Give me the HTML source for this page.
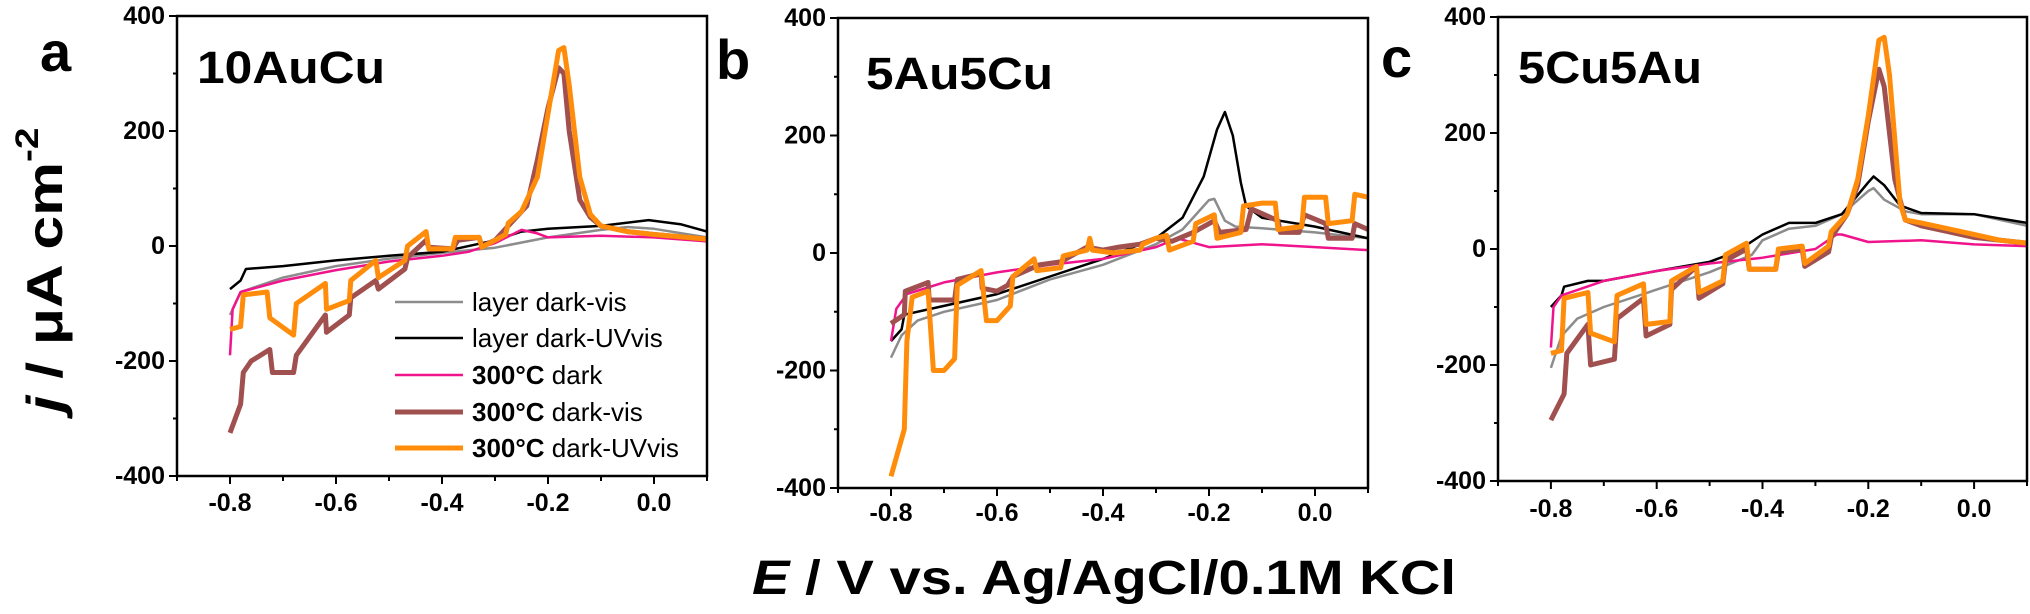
<!DOCTYPE html>
<html><head><meta charset="utf-8"><style>
html,body{margin:0;padding:0;background:#fff;}
svg{display:block;font-family:"Liberation Sans",Arial,sans-serif;}
</style></head><body>
<svg id="chart" width="2030" height="614" viewBox="0 0 2030 614" xmlns="http://www.w3.org/2000/svg">
<text x="45" y="270" transform="rotate(-90 45 270)" text-anchor="middle" dominant-baseline="central" font-size="50" font-weight="bold" textLength="285" lengthAdjust="spacingAndGlyphs"><tspan font-style="italic">j</tspan> / μA cm<tspan dy="-18" font-size="32">-2</tspan></text>
<text x="1104" y="594" text-anchor="middle" font-size="48" font-weight="bold" textLength="704" lengthAdjust="spacingAndGlyphs"><tspan font-style="italic">E</tspan> / V vs. Ag/AgCl/0.1M KCl</text>
</svg>
<script>
const xTicks = [-0.8, -0.6, -0.4, -0.2, 0.0];
const xTickLabels = ["-0.8", "-0.6", "-0.4", "-0.2", "0.0"];
const yTicks = [-400, -200, 0, 200, 400];
const yTickLabels = ["-400", "-200", "0", "200", "400"];
const seriesNames = ["layer dark-vis", "layer dark-UVvis", "300°C dark", "300°C dark-vis", "300°C dark-UVvis"];

const a_gray = [[-0.8,-120],[-0.78,-80],[-0.7,-55],[-0.6,-35],[-0.5,-22],[-0.4,-12],[-0.3,-3],[-0.2,15],[-0.1,28],[-0.05,33],[0,30],[0.1,15]];
const a_black = [[-0.8,-75],[-0.78,-60],[-0.77,-40],[-0.7,-35],[-0.6,-25],[-0.5,-17],[-0.4,-10],[-0.3,10],[-0.25,25],[-0.2,30],[-0.1,35],[-0.01,45],[0.05,38],[0.1,25]];
const a_pink = [[-0.8,-190],[-0.795,-110],[-0.78,-80],[-0.7,-60],[-0.6,-42],[-0.5,-27],[-0.4,-17],[-0.35,-10],[-0.3,5],[-0.25,28],[-0.22,22],[-0.2,15],[-0.1,18],[0,15],[0.1,8]];
const a_brown = [[-0.8,-325],[-0.78,-275],[-0.775,-220],[-0.76,-200],[-0.725,-180],[-0.72,-220],[-0.68,-220],[-0.675,-190],[-0.62,-120],[-0.618,-150],[-0.575,-120],[-0.572,-90],[-0.525,-60],[-0.52,-75],[-0.47,-40],[-0.465,-20],[-0.43,10],[-0.425,-2],[-0.38,-5],[-0.37,10],[-0.33,15],[-0.325,0],[-0.3,10],[-0.28,30],[-0.24,70],[-0.22,150],[-0.2,240],[-0.18,310],[-0.17,300],[-0.16,200],[-0.14,80],[-0.12,50],[-0.1,35],[-0.05,25],[0,20],[0.1,12]];
const a_orange = [[-0.8,-145],[-0.78,-140],[-0.775,-85],[-0.73,-80],[-0.725,-125],[-0.68,-155],[-0.675,-100],[-0.62,-65],[-0.618,-110],[-0.575,-95],[-0.572,-60],[-0.525,-25],[-0.52,-55],[-0.47,-25],[-0.465,0],[-0.43,25],[-0.425,-5],[-0.38,-5],[-0.375,15],[-0.33,15],[-0.325,-2],[-0.3,10],[-0.28,20],[-0.275,40],[-0.25,60],[-0.22,120],[-0.2,230],[-0.18,340],[-0.17,345],[-0.16,280],[-0.14,120],[-0.12,55],[-0.1,35],[-0.05,25],[0,20],[0.1,12]];

const b_gray = [[-0.8,-178],[-0.78,-140],[-0.75,-115],[-0.7,-100],[-0.6,-80],[-0.5,-45],[-0.4,-20],[-0.3,15],[-0.25,40],[-0.2,90],[-0.19,92],[-0.17,55],[-0.15,45],[-0.1,42],[0,35],[0.1,25]];
const b_black = [[-0.8,-150],[-0.78,-130],[-0.775,-105],[-0.7,-90],[-0.6,-70],[-0.5,-40],[-0.4,-10],[-0.3,25],[-0.25,60],[-0.21,130],[-0.185,210],[-0.17,240],[-0.155,200],[-0.14,120],[-0.13,80],[-0.1,60],[0,45],[0.1,25]];
const b_pink = [[-0.8,-150],[-0.79,-95],[-0.77,-70],[-0.7,-50],[-0.6,-33],[-0.5,-20],[-0.4,-10],[-0.3,10],[-0.26,25],[-0.22,15],[-0.2,10],[-0.1,15],[0,10],[0.1,5]];
const b_brown = [[-0.8,-120],[-0.775,-105],[-0.773,-65],[-0.73,-50],[-0.728,-80],[-0.68,-80],[-0.675,-45],[-0.63,-35],[-0.628,-60],[-0.6,-65],[-0.58,-55],[-0.57,-40],[-0.52,-20],[-0.48,-15],[-0.43,10],[-0.4,5],[-0.37,10],[-0.33,15],[-0.3,25],[-0.27,20],[-0.23,35],[-0.19,55],[-0.18,35],[-0.13,40],[-0.12,75],[-0.07,55],[-0.065,35],[-0.03,35],[-0.02,65],[0.02,50],[0.025,25],[0.07,25],[0.075,50],[0.1,40]];
const b_orange = [[-0.8,-380],[-0.775,-300],[-0.77,-150],[-0.76,-75],[-0.73,-65],[-0.72,-200],[-0.7,-200],[-0.68,-180],[-0.675,-55],[-0.63,-30],[-0.62,-115],[-0.6,-115],[-0.575,-90],[-0.57,-40],[-0.53,-10],[-0.525,-30],[-0.48,-25],[-0.475,-5],[-0.43,5],[-0.425,25],[-0.42,5],[-0.38,0],[-0.33,5],[-0.325,15],[-0.3,25],[-0.28,30],[-0.275,5],[-0.23,20],[-0.225,50],[-0.19,65],[-0.185,25],[-0.14,35],[-0.135,80],[-0.1,85],[-0.075,85],[-0.07,40],[-0.025,45],[-0.02,95],[0.02,95],[0.025,50],[0.07,55],[0.075,100],[0.1,95]];

const c_gray = [[-0.8,-205],[-0.78,-150],[-0.75,-120],[-0.7,-100],[-0.6,-70],[-0.5,-40],[-0.42,-10],[-0.4,15],[-0.35,35],[-0.3,40],[-0.25,60],[-0.2,100],[-0.19,105],[-0.17,85],[-0.13,65],[-0.1,60],[0,60],[0.1,40]];
const c_black = [[-0.8,-100],[-0.78,-80],[-0.775,-65],[-0.73,-55],[-0.7,-55],[-0.6,-38],[-0.5,-22],[-0.45,-5],[-0.4,25],[-0.35,45],[-0.3,45],[-0.25,60],[-0.2,115],[-0.19,125],[-0.17,110],[-0.14,75],[-0.1,62],[0,60],[0.1,45]];
const c_pink = [[-0.8,-170],[-0.795,-100],[-0.78,-80],[-0.7,-55],[-0.6,-38],[-0.5,-25],[-0.4,-15],[-0.3,0],[-0.26,25],[-0.25,25],[-0.2,12],[-0.1,15],[0,8],[0.1,5]];
const c_brown = [[-0.8,-295],[-0.775,-250],[-0.77,-180],[-0.73,-130],[-0.725,-200],[-0.68,-190],[-0.675,-120],[-0.625,-85],[-0.62,-150],[-0.575,-130],[-0.572,-70],[-0.525,-30],[-0.52,-85],[-0.475,-60],[-0.47,-20],[-0.43,0],[-0.425,-35],[-0.375,-35],[-0.37,-5],[-0.325,0],[-0.32,-30],[-0.275,-5],[-0.27,20],[-0.24,60],[-0.22,110],[-0.2,220],[-0.18,310],[-0.17,280],[-0.15,120],[-0.13,50],[-0.1,40],[-0.05,30],[0,20],[0.1,10]];
const c_orange = [[-0.8,-180],[-0.78,-175],[-0.775,-85],[-0.73,-75],[-0.725,-145],[-0.68,-160],[-0.675,-80],[-0.625,-60],[-0.62,-130],[-0.575,-125],[-0.572,-55],[-0.525,-30],[-0.52,-75],[-0.475,-55],[-0.47,-10],[-0.43,10],[-0.425,-35],[-0.375,-35],[-0.37,0],[-0.325,5],[-0.32,-25],[-0.275,5],[-0.27,30],[-0.24,60],[-0.22,120],[-0.2,230],[-0.18,360],[-0.17,365],[-0.16,300],[-0.14,80],[-0.13,50],[-0.1,45],[-0.05,35],[0,25],[0.05,15],[0.1,10]];

const NS = "http://www.w3.org/2000/svg";
const svg = document.getElementById("chart");
const styles = [
  {c:"#8c8c8c", w:2.5},{c:"#000000", w:2.5},{c:"#f0148c", w:2.5},{c:"#a0504f", w:5},{c:"#ff8c0a", w:5}
];
const keys = ["gray","black","pink","brown","orange"];
function mk(tag, attrs, parent){ const e=document.createElementNS(NS,tag); for(const k in attrs) e.setAttribute(k,attrs[k]); (parent||svg).appendChild(e); return e; }

const panels = [
  {id:"a", L:177, R:707, T:16, B:476, data:[a_gray,a_black,a_pink,a_brown,a_orange], title:"10AuCu", tx:197, ty:83, tw:188, letter:"a", lx:40, ly:71, xly:511},
  {id:"b", L:838, R:1368, T:18, B:488, data:[b_gray,b_black,b_pink,b_brown,b_orange], title:"5Au5Cu", tx:866, ty:89, tw:187, letter:"b", lx:716, ly:79, xly:521},
  {id:"c", L:1498, R:2027, T:17, B:481, data:[c_gray,c_black,c_pink,c_brown,c_orange], title:"5Cu5Au", tx:1518, ty:83, tw:184, letter:"c", lx:1381, ly:77, xly:517}
];

panels.forEach(p=>{
  const g = mk("g",{});
  
  
  const sx = v => p.L + (v+0.9)/1.0*(p.R-p.L);
  const sy = v => p.B - (v+400)/800*(p.B-p.T);
  const clipId = "clip"+p.id;
  const cp = mk("clipPath",{id:clipId},g); mk("rect",{x:p.L,y:p.T,width:p.R-p.L,height:p.B-p.T},cp);
  p.data.forEach((arr,i)=>{
    const pts = arr.map(d=>sx(d[0]).toFixed(1)+","+sy(d[1]).toFixed(1)).join(" ");
    const pl = mk("polyline",{points:pts,fill:"none",stroke:styles[i].c,"stroke-width":styles[i].w,"stroke-linejoin":"round","clip-path":"url(#"+clipId+")"},g);
    
    
  });
  const frame = mk("rect",{x:p.L,y:p.T,width:p.R-p.L,height:p.B-p.T,fill:"none",stroke:"#000","stroke-width":2.5},g);
  
  
  for(let v=-400; v<=400; v+=100){
    const major = (v%200===0);
    mk("line",{x1:p.L-(major?8:4),x2:p.L,y1:sy(v),y2:sy(v),stroke:"#000","stroke-width":2},g);
  }
  yTicks.forEach((v,i)=>{
    const t = mk("text",{x:p.L-12,y:sy(v),"text-anchor":"end","dominant-baseline":"central","font-size":25,"font-weight":"bold"},g);
    t.textContent = yTickLabels[i];
    
    
  });
  for(let k=-9; k<=1; k++){
    const v=k/10; const major = (k%2===0);
    mk("line",{x1:sx(v),x2:sx(v),y1:p.B,y2:p.B+(major?8:5),stroke:"#000","stroke-width":2},g);
  }
  xTicks.forEach((v,i)=>{
    const t = mk("text",{x:sx(v),y:p.xly,"text-anchor":"middle","font-size":25,"font-weight":"bold"},g);
    t.textContent = xTickLabels[i];
    
    
  });
  const tt = mk("text",{x:p.tx,y:p.ty,"font-size":45,"font-weight":"bold",textLength:p.tw,lengthAdjust:"spacingAndGlyphs"},g);
  tt.textContent = p.title;
  
  
  const lt = mk("text",{x:p.lx,y:p.ly,"font-size":56,"font-weight":"bold"},g);
  lt.textContent = p.letter;
  
  
});

const legendRows = [302,338,375,412,448];
const lg = mk("g",{});


seriesNames.forEach((n,i)=>{
  const row = mk("g",{},lg);
  
  
  mk("line",{x1:395,x2:463,y1:legendRows[i],y2:legendRows[i],stroke:styles[i].c,"stroke-width":styles[i].w},row);
  const t = mk("text",{x:472,y:legendRows[i],"dominant-baseline":"central","font-size":26},row);
  if(i>=2){
    const b = document.createElementNS(NS,"tspan"); b.setAttribute("font-weight","bold"); b.textContent="300°C"; t.appendChild(b);
    t.appendChild(document.createTextNode(n.slice(5)));
  } else t.textContent = n;
});
</script>
</body></html>
